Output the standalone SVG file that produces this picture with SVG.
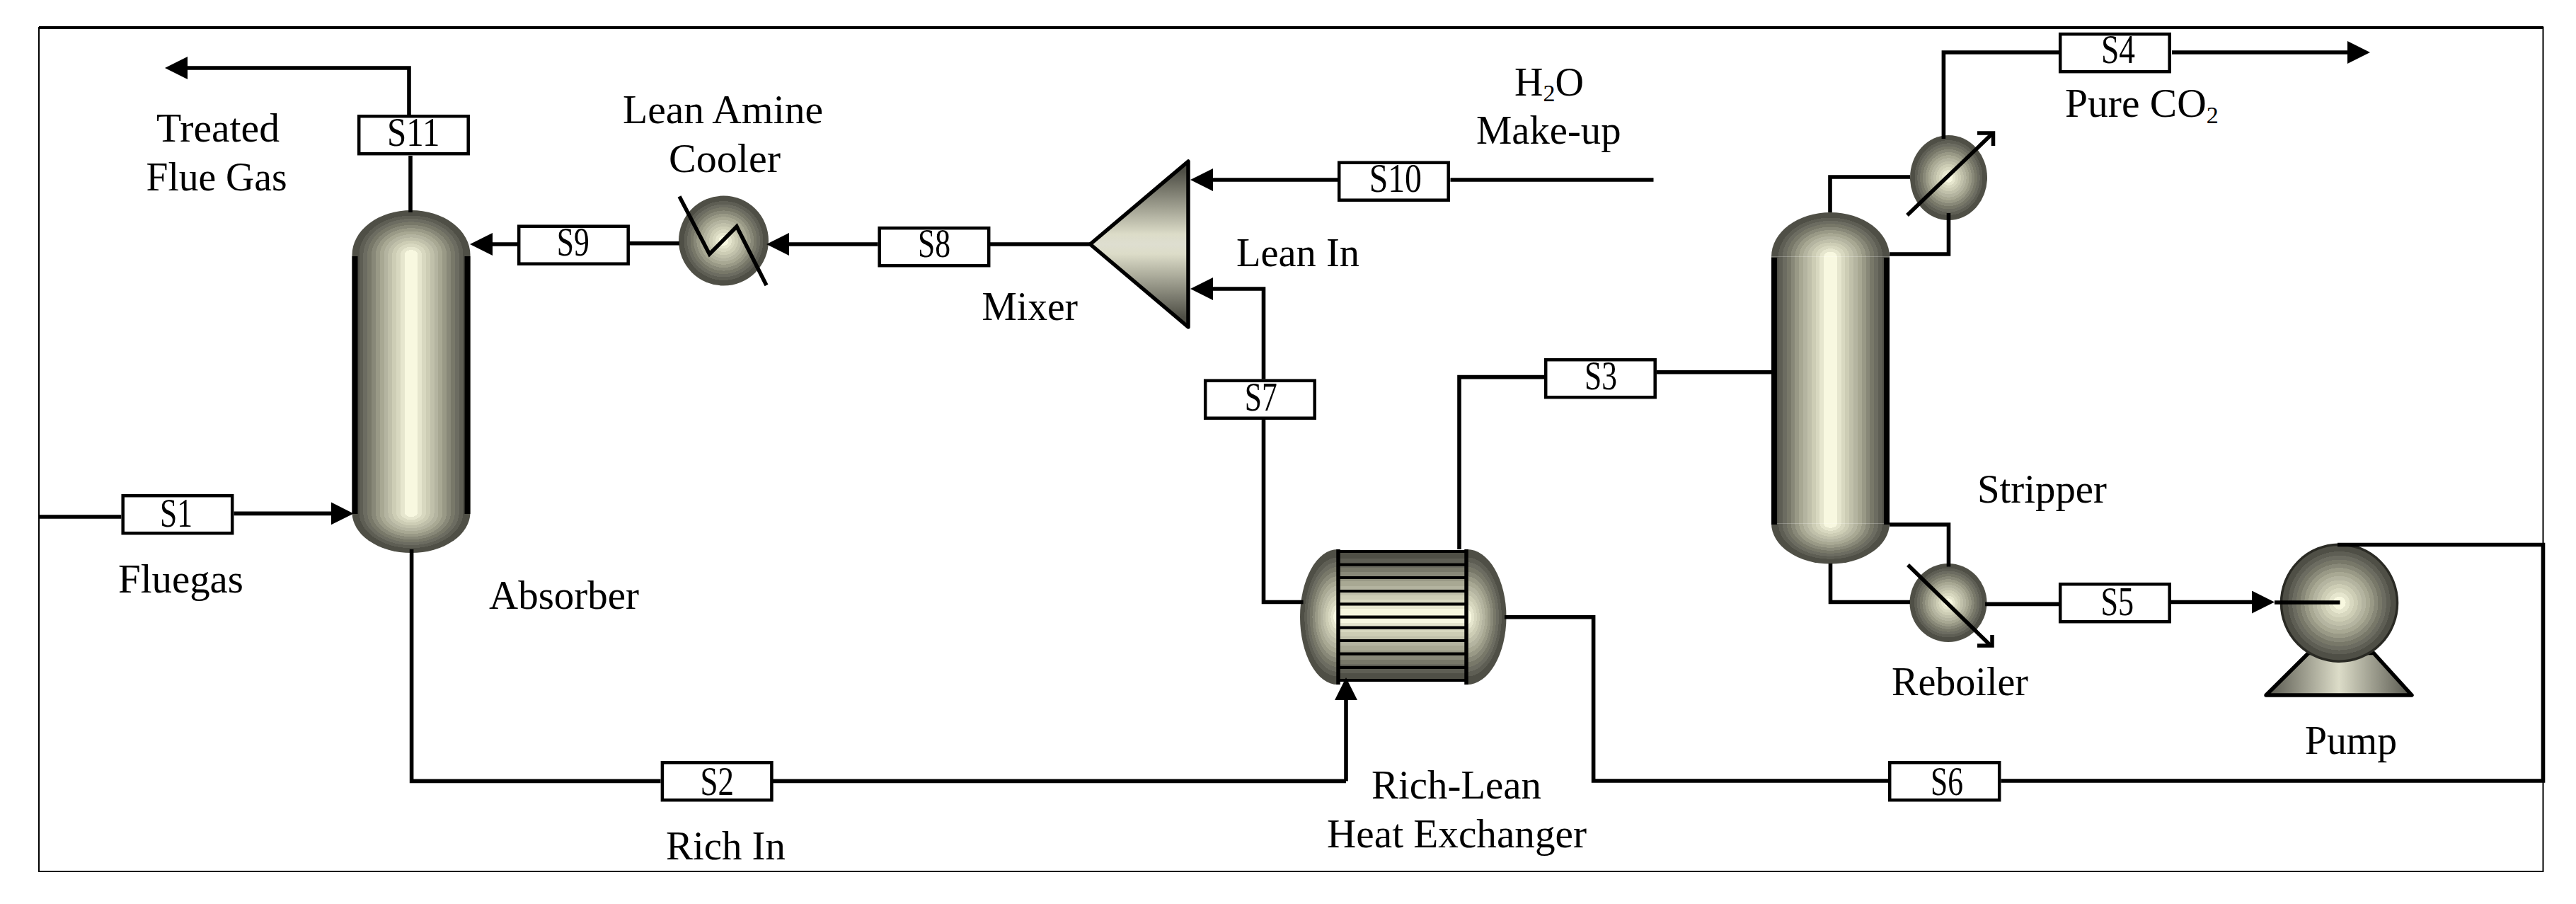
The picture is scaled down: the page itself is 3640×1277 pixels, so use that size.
<svg xmlns="http://www.w3.org/2000/svg" width="3640" height="1277" viewBox="0 0 3640 1277">
<style>
text{font-family:"Liberation Serif","Times New Roman",serif;font-size:56px;fill:#000}
.l{stroke:#000;stroke-width:5.6;fill:none;stroke-linejoin:miter;stroke-linecap:butt}
.a{marker-end:url(#head)}
.box{fill:#fff;stroke:#000;stroke-width:4.5}
.k{stroke:#000;fill:none;stroke-width:8}
.t{stroke:#000;fill:none;stroke-width:4.2}
.sym{stroke:#000;fill:none;stroke-width:5.5}
</style>
<defs>
<linearGradient id="band" x1="0.5" y1="0" x2="1" y2="0" spreadMethod="reflect">
<stop offset="0" stop-color="#f8f8e0"/><stop offset=".11" stop-color="#f8f8e0"/>
<stop offset=".11" stop-color="#e6e6ce"/><stop offset=".18" stop-color="#e6e6ce"/>
<stop offset=".18" stop-color="#d8d8c0"/><stop offset=".25" stop-color="#d8d8c0"/>
<stop offset=".25" stop-color="#cdcdb5"/><stop offset=".32" stop-color="#cdcdb5"/>
<stop offset=".32" stop-color="#c0c0aa"/><stop offset=".39" stop-color="#c0c0aa"/>
<stop offset=".39" stop-color="#b4b4a0"/><stop offset=".46" stop-color="#b4b4a0"/>
<stop offset=".46" stop-color="#a8a893"/><stop offset=".53" stop-color="#a8a893"/>
<stop offset=".53" stop-color="#999986"/><stop offset=".6" stop-color="#999986"/>
<stop offset=".6" stop-color="#888878"/><stop offset=".67" stop-color="#888878"/>
<stop offset=".67" stop-color="#787869"/><stop offset=".74" stop-color="#787869"/>
<stop offset=".74" stop-color="#6c6c61"/><stop offset=".81" stop-color="#6c6c61"/>
<stop offset=".81" stop-color="#5e5e54"/><stop offset=".88" stop-color="#5e5e54"/>
<stop offset=".88" stop-color="#4f4f46"/><stop offset="1" stop-color="#4f4f46"/>
</linearGradient>
<linearGradient id="bandV" href="#band" x1="0" y1="0.5" x2="0" y2="1" spreadMethod="reflect"/>
<radialGradient id="domeT" href="#band" cx="0" cy="0" r="1" fx="0" fy="0" gradientTransform="translate(.5 1) scale(.5 1)"/>
<radialGradient id="domeB" href="#band" cx="0" cy="0" r="1" fx="0" fy="0" gradientTransform="translate(.5 0) scale(.5 1)"/>
<radialGradient id="domeL" href="#band" cx="0" cy="0" r="1" fx="0" fy="0" gradientTransform="translate(1 .5) scale(1 .5)"/>
<radialGradient id="domeR" href="#band" cx="0" cy="0" r="1" fx="0" fy="0" gradientTransform="translate(0 .5) scale(1 .5)"/>
<radialGradient id="ball" href="#band" cx=".5" cy=".5" r=".5"/>
<linearGradient id="mix" x1="0" y1="0.5" x2="0" y2="1" spreadMethod="reflect">
<stop offset="0" stop-color="#deded0"/><stop offset=".12" stop-color="#dcdcc8"/><stop offset=".88" stop-color="#4f4f46"/><stop offset="1" stop-color="#4f4f46"/>
</linearGradient>
<linearGradient id="base" x1="0.5" y1="0" x2="1" y2="0" spreadMethod="reflect">
<stop offset="0" stop-color="#dcdcc8"/><stop offset="1" stop-color="#55554c"/>
</linearGradient>
<marker id="head" markerUnits="userSpaceOnUse" markerWidth="32" markerHeight="32" viewBox="0 0 32 32" refX="8" refY="16" orient="auto">
<path d="M0 0L32 16L0 32Z" fill="#000"/>
</marker>
</defs>
<rect width="3640" height="1277" fill="#fff"/>
<rect id="frame" x="55" y="39" width="3538.5" height="1192" fill="none" stroke="#000" stroke-width="2"/>
<path d="M55 39H3594" stroke="#000" stroke-width="4"/>

<g id="absorber">
<rect x="497.5" y="360" width="167" height="364" fill="url(#band)"/>
<path d="M497.5 360A83.5 63 0 0 1 664.5 360Z" fill="url(#domeT)"/>
<path d="M497.5 724A83.5 57 0 0 0 664.5 724Z" fill="url(#domeB)"/>
<path class="k" d="M501.5 362V726M660.5 362V726"/>
</g>
<g id="stripper">
<rect x="2503" y="362.5" width="167" height="377" fill="url(#band)"/>
<path d="M2503 362.5A83.5 62.5 0 0 1 2670 362.5Z" fill="url(#domeT)"/>
<path d="M2503 739.5A83.5 57 0 0 0 2670 739.5Z" fill="url(#domeB)"/>
<path class="k" d="M2507 364V741M2666 364V741"/>
</g>
<g id="cooler">
<circle cx="1022.5" cy="340" r="63.5" fill="url(#ball)"/>
<path class="sym" d="M960 277.500L1002.500 359L1041 320L1083 403"/>
</g>
<g id="mixer">
<path d="M1540.500 345L1679 228V462Z" fill="url(#mix)" stroke="#000" stroke-width="5.500" stroke-linejoin="round"/>
</g>
<g id="condenser">
<ellipse cx="2753.500" cy="251" rx="54.500" ry="60" fill="url(#ball)"/>
<path class="sym" d="M2695 304L2815 189"/>
<path class="sym" d="M2794 188H2816.500V206"/>
</g>
<g id="reboiler">
<ellipse cx="2753" cy="851.500" rx="54.500" ry="55.500" fill="url(#ball)"/>
<path class="sym" d="M2696 798L2812 911"/>
<path class="sym" d="M2794 912H2815V897"/>
</g>
<g id="pump">
<path d="M3262 922.500H3354L3408 982H3202Z" fill="url(#base)" stroke="#000" stroke-width="5.500" stroke-linejoin="round"/>
<ellipse cx="3305.500" cy="851.700" rx="82" ry="82.500" fill="url(#ball)" stroke="#2a2a24" stroke-width="3.500"/>
</g>
<g id="heat-exchanger">
<path d="M1890 776A53 95.500 0 0 0 1890 967Z" fill="url(#domeL)"/>
<path d="M2073 776A55.500 95.500 0 0 1 2073 967Z" fill="url(#domeR)"/>
<rect x="1890" y="778" width="183" height="184" fill="url(#bandV)"/>
<path class="t" d="M1890 779H2073M1890 797.700H2073M1890 816H2073M1890 835H2073M1890 853.400H2073M1890 871.700H2073M1890 886.700H2073M1890 905H2073M1890 923.700H2073M1890 942.800H2073M1890 961H2073"/>
<path class="sym" d="M1891 776V967M2072 776V967"/>
</g>

<g id="connectors">
<path class="l a" d="M580 300V220M578 162V96H257"/>
<path class="l a" d="M731 345H688"/>
<path class="l" d="M889 343.700H960"/>
<path class="l a" d="M1240.500 345H1107"/>
<path class="l" d="M1399 345H1540.500"/>
<path class="l a" d="M1890 254H1706"/>
<path class="l" d="M2049.500 254H2336.500"/>
<path class="l a" d="M1785.500 535.500V408H1706"/>
<path class="l" d="M1785.500 592V850.500H1841.600"/>
<path class="l" d="M2062 776V532.600H2182"/>
<path class="l" d="M2341 525.700H2503"/>
<path class="l" d="M2586 300V250H2699"/>
<path class="l" d="M2670 359H2753.500V301"/>
<path class="l" d="M2746.400 196V74H2909"/>
<path class="l a" d="M3069 74H3325"/>
<path class="l" d="M2670 741H2753.500V800.600"/>
<path class="l" d="M2586.500 796V850.500H2699"/>
<path class="l" d="M2805 853.400H2909"/>
<path class="l a" d="M3067 850.500H3190"/>
<path class="l" d="M3214 851H3306.500"/>
<path class="l" d="M3303 769.500H3593.500V1103H2827.500"/>
<path class="l" d="M2668 1103H2251.600V871.700H2126"/>
<path class="l" d="M1092 1103.400H1902"/>
<path class="l a" d="M1902 1103.400V981"/>
<path class="l" d="M933.600 1103.400H581.600V776"/>
<path class="l" d="M55 730H171.400"/>
<path class="l a" d="M330.600 725.400H475.700"/>
</g>

<g id="s1"><rect class="box" x="173.700" y="700.200" width="154.500" height="53"/><text x="226" y="743.700" textLength="46" lengthAdjust="spacingAndGlyphs">S1</text></g>
<g id="s2"><rect class="box" x="935.900" y="1077.200" width="154.500" height="53"/><text x="989.500" y="1122.500" textLength="47.500" lengthAdjust="spacingAndGlyphs">S2</text></g>
<g id="s3"><rect class="box" x="2184.200" y="508.200" width="154.500" height="53"/><text x="2239" y="550" textLength="46" lengthAdjust="spacingAndGlyphs">S3</text></g>
<g id="s4"><rect class="box" x="2911.200" y="48.200" width="154.500" height="53"/><text x="2969" y="89" textLength="48" lengthAdjust="spacingAndGlyphs">S4</text></g>
<g id="s5"><rect class="box" x="2911.200" y="825.200" width="154.500" height="53"/><text x="2968.400" y="869" textLength="46.600" lengthAdjust="spacingAndGlyphs">S5</text></g>
<g id="s6"><rect class="box" x="2670.200" y="1077.200" width="155" height="53"/><text x="2728" y="1122.500" textLength="46" lengthAdjust="spacingAndGlyphs">S6</text></g>
<g id="s7"><rect class="box" x="1703.200" y="537.700" width="154.500" height="53"/><text x="1758.700" y="579.600" textLength="46" lengthAdjust="spacingAndGlyphs">S7</text></g>
<g id="s8"><rect class="box" x="1242.700" y="322.200" width="154.500" height="53"/><text x="1297" y="363" textLength="46" lengthAdjust="spacingAndGlyphs">S8</text></g>
<g id="s9"><rect class="box" x="733.200" y="319.700" width="154.500" height="53"/><text x="786.700" y="361" textLength="46" lengthAdjust="spacingAndGlyphs">S9</text></g>
<g id="s10"><rect class="box" x="1892.200" y="229.700" width="154.500" height="53"/><text x="1934.700" y="270.600" textLength="74.300" lengthAdjust="spacingAndGlyphs">S10</text></g>
<g id="s11"><rect class="box" x="507.200" y="164.200" width="154.500" height="53"/><text x="547" y="206" textLength="74.400" lengthAdjust="spacingAndGlyphs">S11</text></g>

<g id="labels">
<text x="221" y="200" textLength="174" lengthAdjust="spacingAndGlyphs">Treated</text>
<text x="206.500" y="269" textLength="199" lengthAdjust="spacingAndGlyphs">Flue Gas</text>
<text x="880" y="173.500" textLength="283" lengthAdjust="spacingAndGlyphs">Lean Amine</text>
<text x="945" y="243" textLength="158" lengthAdjust="spacingAndGlyphs">Cooler</text>
<text x="2140" y="134.700">H<tspan font-size="34" dy="8.500">2</tspan><tspan dy="-8.500">O</tspan></text>
<text x="2086" y="203" textLength="204.500" lengthAdjust="spacingAndGlyphs">Make-up</text>
<text x="1747" y="376" textLength="174" lengthAdjust="spacingAndGlyphs">Lean In</text>
<text x="1387.500" y="452" textLength="135.500" lengthAdjust="spacingAndGlyphs">Mixer</text>
<text x="2918" y="165" font-size="57" style="font-size:57.500px">Pure CO<tspan style="font-size:34px" dy="8.500">2</tspan></text>
<text x="167" y="837" textLength="177" lengthAdjust="spacingAndGlyphs">Fluegas</text>
<text x="691" y="860" textLength="212" lengthAdjust="spacingAndGlyphs">Absorber</text>
<text x="941" y="1214" textLength="169" lengthAdjust="spacingAndGlyphs">Rich In</text>
<text x="1938" y="1128" textLength="240" lengthAdjust="spacingAndGlyphs">Rich-Lean</text>
<text x="1875" y="1197" textLength="367" lengthAdjust="spacingAndGlyphs">Heat Exchanger</text>
<text x="2794" y="710" textLength="183" lengthAdjust="spacingAndGlyphs">Stripper</text>
<text x="2673" y="981.500" textLength="193" lengthAdjust="spacingAndGlyphs">Reboiler</text>
<text x="3257" y="1065" textLength="130" lengthAdjust="spacingAndGlyphs">Pump</text>
</g>
</svg>
